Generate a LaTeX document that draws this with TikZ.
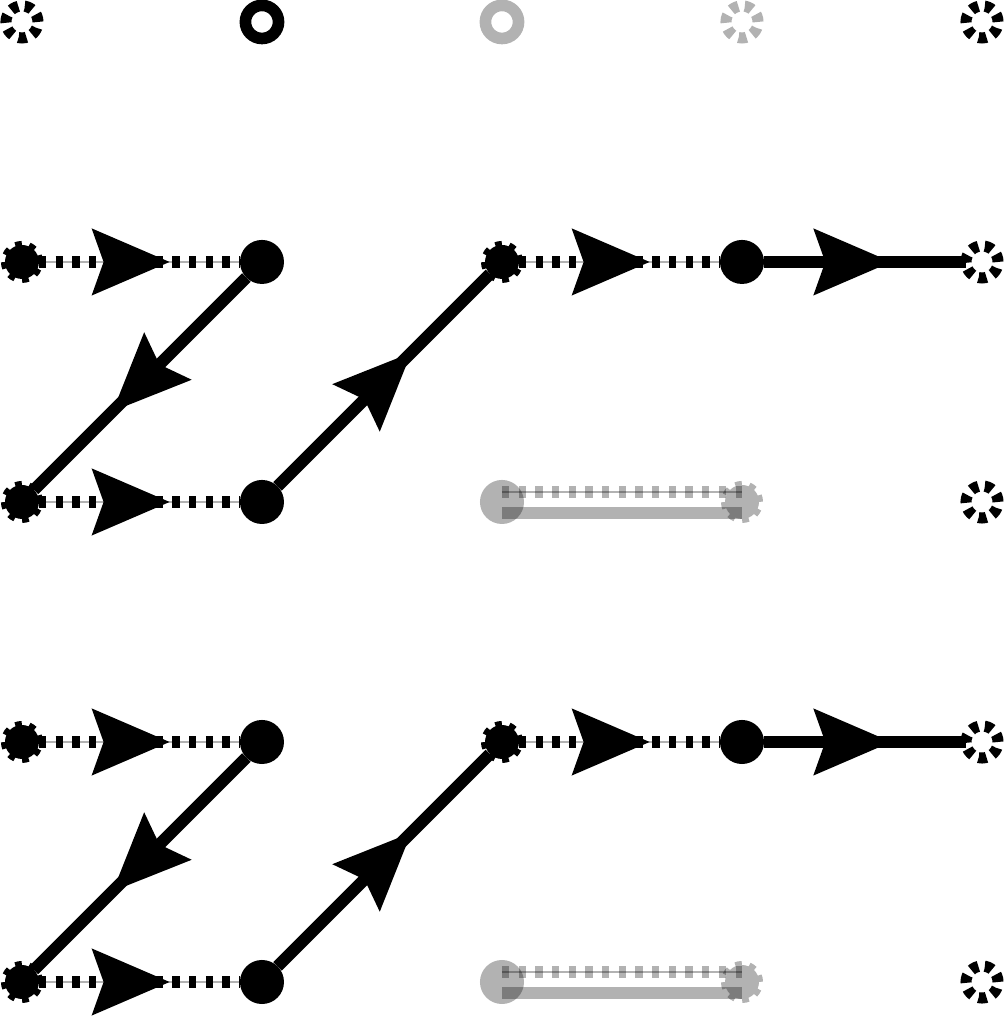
\documentclass[tikz,border=0pt]{standalone}
\usetikzlibrary{arrows.meta,decorations.markings,backgrounds}

\tikzset{
  dot/.style={circle,fill,inner sep=0pt,outer sep=0pt,minimum size=0.367cm},
  gear/.style={circle,fill,draw,inner sep=0pt,outer sep=0pt,minimum size=0.283cm,
    line width=0.067cm,dash pattern=on 0.054cm off 0.057cm},
  ring/.style={circle,draw,inner sep=0pt,outer sep=0pt,minimum size=0.276cm,line width=0.097cm},
  dashring/.style={circle,draw,inner sep=0pt,outer sep=0pt,minimum size=0.267cm,
    line width=0.092cm,dash pattern=on 0.066cm off 0.054cm},
  faded/.style={opacity=0.3},
  solidedge/.style={line width=0.1cm},
  dottededge/.style={line width=0.094cm,dash pattern=on 0.061cm off 0.078cm,
    preaction={draw,solid,line width=0.4pt,black!30}},
  midtip/.style={postaction={decorate,decoration={markings,
    mark=at position #1 with {\pgfsetdash{}{0pt}%
      \arrow{Stealth[length=0.65cm,width=0.56cm,inset=0.1cm,line width=0pt]}}}}},
  midtip/.default=0.63,
}

\begin{document}
\begin{tikzpicture}
  \useasboundingbox (-0.183,-0.3) rectangle (8.192,8.183);
  % top row
  \node[dashring] (t0) at (0,8) {};
  \node[ring] (t1) at (2,8) {};
  \node[ring,faded] (t2) at (4,8) {};
  \node[dashring,faded] (t3) at (6,8) {};
  \node[dashring] (t4) at (8,8) {};
  \foreach \y/\n in {6/a,2/b} {
    \node[gear] (\n0) at (0,\y) {};
    \node[dot] (\n1) at (2,\y) {};
    \node[gear] (\n2) at (4,\y) {};
    \node[dot] (\n3) at (6,\y) {};
    \node[dashring] (\n4) at (8,\y) {};
    \node[gear] (\n5) at (0,\y-2) {};
    \node[dot] (\n6) at (2,\y-2) {};
    \node[dot,faded] (\n7) at (4,\y-2) {};
    \begin{scope}[transparency group,opacity=0.3]
      \node[gear] (\n8) at (6,\y-2) {};
    \end{scope}
    \node[dashring] (\n9) at (8,\y-2) {};
    \begin{scope}[on background layer]
      \draw[dottededge,midtip=0.65] (\n0) -- (\n1);
      \draw[solidedge,midtip] (\n1) -- (\n5);
      \draw[dottededge,midtip=0.65] (\n5) -- (\n6);
      \draw[solidedge,midtip] (\n6) -- (\n2);
      \draw[dottededge,midtip=0.65] (\n2) -- (\n3);
      \draw[solidedge,midtip] (\n3) -- (\n4);
      \draw[dottededge,faded] ([yshift=0.083cm]\n7.center) -- ([yshift=0.083cm]\n8.center);
      \draw[solidedge,faded] ([yshift=-0.09cm]\n7.center) -- ([yshift=-0.09cm]\n8.center);
    \end{scope}
  }
\end{tikzpicture}
\end{document}
